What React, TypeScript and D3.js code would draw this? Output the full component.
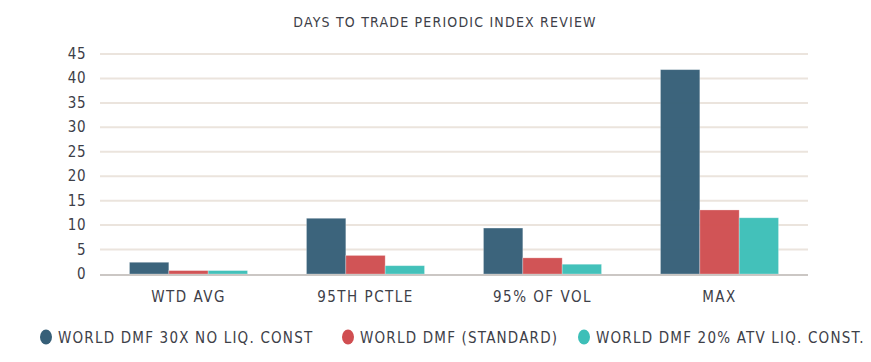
import React, { useRef, useEffect } from 'react';
import * as d3 from 'd3';

const title = 'DAYS TO TRADE PERIODIC INDEX REVIEW';
const categories = ['WTD AVG', '95TH PCTLE', '95% OF VOL', 'MAX'];
const seriesNames = ['WORLD DMF 30X NO LIQ. CONST', 'WORLD DMF (STANDARD)', 'WORLD DMF 20% ATV LIQ. CONST.'];
const noLiqConst = [2.4, 11.4, 9.4, 41.8];
const standard = [0.7, 3.8, 3.3, 13.1];
const atvLiqConst = [0.7, 1.7, 2.0, 11.5];
const colors = ['#365f78', '#d04e51', '#3dbfb8'];
const yTicks = [0, 5, 10, 15, 20, 25, 30, 35, 40, 45];

const FONT = '"DejaVu Sans Condensed", "DejaVu Sans", sans-serif';

const App = () => {
  const ref = useRef(null);

  useEffect(() => {
    const svg = d3.select(ref.current);
    svg.selectAll('*').remove();

    const width = 871;
    const height = 362;
    const margin = { top: 54, right: 63, bottom: 88, left: 100 };
    const values = [noLiqConst, standard, atvLiqConst];

    const x = d3.scaleBand()
      .domain(categories)
      .range([margin.left, width - margin.right])
      .paddingInner(0.333)
      .paddingOuter(0.1665);

    const xs = d3.scaleBand()
      .domain(seriesNames)
      .range([0, x.bandwidth()]);

    const y = d3.scaleLinear()
      .domain([0, 45])
      .range([height - margin.bottom, margin.top]);

    // title
    svg.append('text')
      .attr('x', 445)
      .attr('y', 27)
      .attr('text-anchor', 'middle')
      .style('font-family', FONT)
      .style('font-size', '14px')
      .style('letter-spacing', '1.2px')
      .attr('fill', '#3d4048')
      .text(title);

    // grid
    svg.append('g')
      .selectAll('line')
      .data(yTicks.filter(d => d > 0))
      .join('line')
      .attr('x1', margin.left)
      .attr('x2', width - margin.right)
      .attr('y1', d => y(d))
      .attr('y2', d => y(d))
      .attr('stroke', '#ebe4dd')
      .attr('stroke-width', 2);

    // bars
    values.forEach((vals, i) => {
      svg.append('g')
        .selectAll('rect')
        .data(vals)
        .join('rect')
        .attr('x', (d, j) => x(categories[j]) + xs(seriesNames[i]))
        .attr('y', d => y(d))
        .attr('width', xs.bandwidth())
        .attr('height', d => y(0) - y(d))
        .attr('fill', colors[i])
        .attr('fill-opacity', 0.97)
        .attr('stroke', '#ffffff')
        .attr('stroke-opacity', 0.35)
        .attr('stroke-width', 0.8);
    });

    // baseline
    svg.append('line')
      .attr('x1', margin.left)
      .attr('x2', width - margin.right)
      .attr('y1', y(0) + 1)
      .attr('y2', y(0) + 1)
      .attr('stroke', '#cbc7c4')
      .attr('stroke-width', 2);

    // y labels
    svg.append('g')
      .selectAll('text')
      .data(yTicks)
      .join('text')
      .attr('x', 86)
      .attr('y', d => y(d) + 5)
      .attr('text-anchor', 'end')
      .style('font-family', FONT)
      .style('font-size', '15px')
      .style('letter-spacing', '0.5px')
      .attr('fill', '#3d4048')
      .text(d => d);

    // x labels
    svg.append('g')
      .selectAll('text')
      .data(categories)
      .join('text')
      .attr('x', d => x(d) + x.bandwidth() / 2)
      .attr('y', y(0) + 28)
      .attr('text-anchor', 'middle')
      .style('font-family', FONT)
      .style('font-size', '15px')
      .style('letter-spacing', '1.5px')
      .attr('fill', '#3d4048')
      .text(d => d);

    // legend
    const legendX = [46, 348, 584];
    seriesNames.forEach((name, i) => {
      const g = svg.append('g').attr('transform', `translate(${legendX[i]},337)`);
      g.append('ellipse')
        .attr('rx', 6)
        .attr('ry', 7.5)
        .attr('fill', colors[i]);
      g.append('text')
        .attr('x', 12)
        .attr('y', 6)
        .style('font-family', FONT)
        .style('font-size', '15px')
        .style('letter-spacing', '1.2px')
        .attr('fill', '#3d4048')
        .text(name);
    });
  }, []);

  return <svg ref={ref} width="871" height="362" style={{ position: 'absolute', left: 0, top: 0 }}></svg>;
};

export default App;
